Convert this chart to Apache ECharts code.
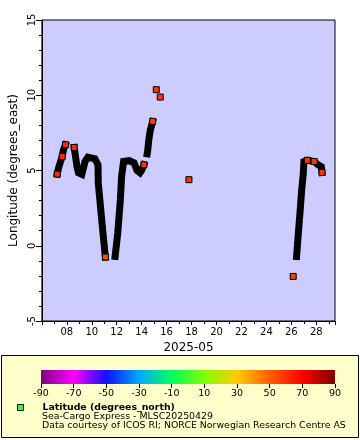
<!DOCTYPE html>
<html><head><meta charset="utf-8">
<script src="https://cdn.jsdelivr.net/npm/echarts@6/dist/echarts.min.js"></script>
<style>html,body{margin:0;padding:0;background:#fff}#c{width:360px;height:440px}</style>
</head><body><div id="c"></div>
<script>
// Dense ship track (day of May 2025, longitude); null separates gaps in the record
const trackDays = [7.23,7.34,7.49,7.63,7.73,7.89, null,
  8.59,8.81,8.93,9.20,9.46,9.69,10.25,10.50,10.52,10.77,10.95,11.03,11.09, null,
  11.87,12.08,12.29,12.39,12.55,13.00,13.39,13.63,13.86,14.02,14.18, null,
  14.44,14.49,14.57,14.70,14.81,14.88, null,
  26.42,26.52,26.68,26.83,26.95,27.01,27.28,27.83,28.10,28.40,28.46];
const trackLons = [4.76,5.18,5.58,5.93,6.38,6.71, null,
  6.53,5.27,4.85,4.75,5.60,5.88,5.78,5.38,4.17,1.95,0.40,-0.27,-0.75, null,
  -0.71,0.84,3.06,4.60,5.60,5.65,5.51,5.00,4.85,5.05,5.38, null,
  6.11,6.38,7.04,7.71,8.04,8.26, null,
  -0.71,0.40,2.06,3.72,4.72,5.60,5.68,5.60,5.40,5.25,4.87];
// Observations whose fill is visible (day, longitude, latitude)
const markerDays = [7.23,7.63,7.89,8.59,11.09,14.18,14.88,15.17,15.49,17.79,26.15,27.28,27.83,28.46];
const markerLons = [4.76,5.93,6.71,6.53,-0.75,5.38,8.26,10.37,9.88,4.39,-2.04,5.68,5.60,4.87];
const markerLats = [61.0,61.0,61.5,61.5,55.0,60.0,58.5,59.0,59.0,60.0,57.0,59.0,59.0,60.0];
const colorbarStops = ['#7f007f','#ff00ff','#1010ff','#00a8ff','#00ff60','#80ff00','#ffcc00','#ff6000','#ff0000','#800000'];
const xTickLabelFmt = v => (v < 10 ? '0' : '') + v;

const FONT = 'DejaVu Sans';
const chart = echarts.init(document.getElementById('c'), null, {renderer: 'canvas'});
const gradient = new echarts.graphic.LinearGradient(0, 0, 1, 0,
  colorbarStops.map((c, i) => ({offset: i / (colorbarStops.length - 1), color: c})));

const trackData = trackDays.map((d, i) => d == null ? ['-', '-'] : [d, trackLons[i]]);
const markerData = markerDays.map((d, i) => [d, markerLons[i], markerLats[i]]);
const SNAME = 'Latitude (degrees_north)';

chart.setOption({
  animation: false,
  backgroundColor: '#fff',
  textStyle: {fontFamily: FONT},
  grid: [
    {left: 36, right: 25, top: 20, bottom: 119, show: true, backgroundColor: '#ccccff', borderColor: '#000', borderWidth: 1, containLabel: false},
    {left: 41, right: 25, top: 370, height: 14, show: true, backgroundColor: gradient, borderWidth: 0, z: 3}
  ],
  xAxis: [
    {type: 'value', gridIndex: 0, min: 6, max: 29.5, interval: 2,
     name: '2025-05', nameLocation: 'middle', nameGap: 18,
     nameTextStyle: {fontFamily: FONT, fontSize: 12, color: '#000'},
     axisLine: {show: true, onZero: false, lineStyle: {color: '#000', width: 1}},
     axisTick: {show: true, length: 4, lineStyle: {color: '#000'}},
     minorTick: {show: true, splitNumber: 2, length: 3, lineStyle: {color: '#000'}},
     splitLine: {show: false},
     axisLabel: {formatter: xTickLabelFmt, showMinLabel: false, showMaxLabel: false, fontFamily: FONT, fontSize: 10, color: '#000', margin: 6}
    },
    {type: 'value', gridIndex: 1, min: -90, max: 90, interval: 20,
     axisLine: {show: false},
     axisTick: {show: true, length: 4, lineStyle: {color: '#000'}},
     splitLine: {show: false},
     axisLabel: {fontFamily: FONT, fontSize: 9.5, color: '#000', margin: 5}
    }
  ],
  yAxis: [
    {type: 'value', gridIndex: 0, min: -5, max: 15, interval: 5,
     name: 'Longitude (degrees_east)', nameLocation: 'middle', nameGap: 21,
     nameTextStyle: {fontFamily: FONT, fontSize: 12, color: '#000'},
     axisLine: {show: true, onZero: false, lineStyle: {color: '#000', width: 1}},
     axisTick: {show: true, length: 6, lineStyle: {color: '#000'}},
     minorTick: {show: true, splitNumber: 5, length: 3, lineStyle: {color: '#000'}},
     splitLine: {show: false},
     axisLabel: {rotate: 90, fontFamily: FONT, fontSize: 10, color: '#000', margin: 4}
    },
    {type: 'value', gridIndex: 1, min: 0, max: 1, show: false}
  ],
  visualMap: {
    type: 'continuous', show: false, seriesIndex: 1, dimension: 2,
    min: -90, max: 90, inRange: {color: colorbarStops}
  },
  legend: {
    data: [{name: SNAME, icon: 'rect', itemStyle: {color: '#33ff33', borderColor: '#000', borderWidth: 1}}],
    left: 17, top: 403, itemWidth: 6, itemHeight: 6, selectedMode: false, padding: 0,
    textStyle: {fontFamily: FONT, fontSize: 9.4, fontWeight: 'bold', color: '#000', padding: [0, 0, 0, 14]}
  },
  graphic: [
    {type: 'rect', z: -10, shape: {x: 1.5, y: 355.5, width: 357, height: 82}, style: {fill: '#ffffcc', stroke: '#000', lineWidth: 1}},
    {type: 'text', left: 42, top: 412.5, style: {text: 'Sea-Cargo Express - MLSC20250429', font: '9.4px "DejaVu Sans"', fill: '#000'}},
    {type: 'text', left: 42, top: 421.5, style: {text: 'Data courtesy of ICOS RI; NORCE Norwegian Research Centre AS', font: '9.4px "DejaVu Sans"', fill: '#000'}}
  ],
  series: [
    {name: SNAME, type: 'line', xAxisIndex: 0, yAxisIndex: 0, data: trackData,
     showSymbol: false, symbol: 'none', connectNulls: false,
     lineStyle: {color: '#000', width: 7, cap: 'square', join: 'miter'}, z: 2},
    {name: SNAME, type: 'scatter', xAxisIndex: 0, yAxisIndex: 0, data: markerData,
     symbol: 'rect', symbolSize: 6, itemStyle: {borderColor: '#000', borderWidth: 1, opacity: 1}, z: 3}
  ]
});
</script>
</body></html>
